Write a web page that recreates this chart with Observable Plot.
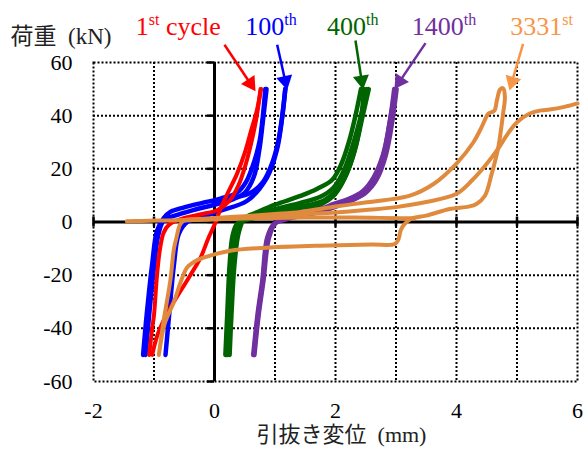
<!DOCTYPE html>
<html><head><meta charset="utf-8">
<script src="https://cdn.jsdelivr.net/npm/d3@7"></script>
<script src="https://cdn.jsdelivr.net/npm/@observablehq/plot@0.6"></script>
<style>body{margin:0;background:#fff} svg text{font-family:"Liberation Serif","Noto Sans CJK JP",serif !important;}</style>
</head><body><div id="chart"></div>
<script>
// ---------- data ----------
const xTicks = [-2, 0, 2, 4, 6];
const xGrid = [-1, 1, 2, 3, 4, 5];
const xMinorTicks = [-2, -1, 0, 1, 2, 3, 4, 5, 6];
const yTicks = [-60, -40, -20, 0, 20, 40, 60];
const yGrid = [-40, -20, 20, 40];

const seriesNames = ["1st cycle", "100th", "400th", "1400th", "3331st"];
const labelBase = ["1", "100", "400", "1400", "3331"];
const labelSup = ["st", "th", "th", "th", "st"];
const labelRest = ["\u00a0cycle", "", "", "", ""];

// each series: list of paths, each path list of [displacement mm, load kN]
const cycle1Paths = [
  [[-1.03,-50],[-0.95,-43],[-0.84,-37],[-0.7,-31],[-0.59,-27],[-0.4,-20],[-0.23,-13.4],[-0.1,-6],[0.02,0],[0.1,5],[0.2,10],[0.37,18],[0.5,26],[0.6,34],[0.7,42],[0.77,50]],
  [[-1.08,-50],[-1.03,-40],[-1.0,-35],[-0.95,-20],[-0.9,-10],[-0.84,-4],[-0.75,-1],[-0.5,1.5],[-0.2,3],[0.05,4.5],[0.25,8],[0.4,14],[0.52,22],[0.62,31],[0.7,40],[0.76,50]]
];
const cycle100Paths = [
  [[0.84,50],[0.8,40],[0.75,31],[0.66,23],[0.52,15],[0.37,11],[0.1,8.8],[-0.2,7.2],[-0.5,5.5],[-0.73,3.8],[-0.84,1.5],[-0.95,-3.3],[-1.03,-15.8],[-1.12,-34.7],[-1.18,-50]],
  [[-1.14,-50],[-1.08,-35],[-1.0,-17],[-0.93,-5],[-0.84,0.5],[-0.6,2.8],[-0.3,4.8],[0,6.5],[0.3,8.5],[0.5,11],[0.65,17],[0.74,27],[0.8,38],[0.86,50]],
  [[-0.81,-50],[-0.75,-35],[-0.67,-16],[-0.59,-4.5],[-0.45,0],[-0.23,1.7],[0.1,4.3],[0.54,8],[0.87,16.8],[1.03,27],[1.12,39.5],[1.17,50]],
  [[1.17,50],[1.12,40],[1.05,30],[0.95,22],[0.8,15],[0.6,11],[0.3,9],[0,7.5]]
];
const cycle400Paths = [
  [[0.18,-50],[0.21,-35],[0.25,-16],[0.3,-5],[0.38,-0.5],[0.6,1.2],[1.0,3],[1.42,4.5],[1.75,6.5],[1.97,9.9],[2.12,15],[2.25,22],[2.35,30],[2.43,40],[2.47,50]],
  [[0.25,-50],[0.28,-35],[0.33,-16],[0.4,-4],[0.5,1.5],[0.7,3.6],[1.0,6.5],[1.42,9.8],[1.7,12.5],[1.95,16],[2.1,22],[2.22,30],[2.33,40],[2.42,50]],
  [[0.22,-50],[0.25,-35],[0.29,-16],[0.35,-4],[0.45,0.8],[0.65,2.5],[1.0,4.8],[1.42,7.2],[1.75,9.5],[1.97,13],[2.15,20],[2.3,30],[2.42,40],[2.52,50]],
  [[0.2,-50],[0.23,-35],[0.27,-16],[0.32,-4.5],[0.42,0],[0.62,1.8],[1.0,3.8],[1.42,5.8],[1.8,8],[2.02,12],[2.18,18],[2.32,27],[2.45,40],[2.55,50]]
];
const cycle1400Paths = [
  [[0.64,-50],[0.71,-35],[0.79,-22],[0.87,-6],[0.98,-0.8],[1.2,1.1],[1.42,2.2],[1.75,3.8],[1.97,5.5],[2.2,7.5],[2.46,10.5],[2.63,15.5],[2.79,25],[2.9,38],[2.99,50]],
  [[0.66,-50],[0.73,-35],[0.81,-22],[0.9,-6],[1.02,0],[1.2,2],[1.42,3.6],[1.75,4.9],[1.97,6.8],[2.2,8.5],[2.46,11.8],[2.63,16.8],[2.79,25.7],[2.9,38.2],[2.97,50]],
  [[0.65,-50],[0.72,-35],[0.8,-22],[0.88,-6],[1.0,-0.5],[1.2,1.5],[1.42,2.8],[1.75,4.3],[2.0,6],[2.3,8.5],[2.5,11],[2.68,16],[2.83,25],[2.94,38],[3.01,50]]
];
const cycle3331Paths = [
  [[-1.45,0.3],[-1.2,0.4],[-0.8,0.6],[-0.4,0.8],[0,1.0],[0.5,1.3],[1.0,1.5],[1.5,1.7],[2.0,1.7],[2.6,1.6],[3.1,1.4],[3.3,1.4]],
  [[-0.92,-50],[-0.82,-38],[-0.67,-30],[-0.55,-22],[-0.45,-17],[-0.3,-14.5],[-0.18,-13.4],[0.26,-10.8],[0.92,-9.6],[1.75,-8.9],[2.6,-8.5],[2.98,-8.3],[3.04,-6.5],[3.08,-3],[3.14,-0.8],[3.25,1.2],[3.5,2.4],[3.89,4.9],[4.2,5.8],[4.33,6.8],[4.47,9.9],[4.58,18],[4.69,28],[4.77,40.8],[4.8,47],[4.77,50.3],[4.72,49.8],[4.67,46],[4.63,42],[4.59,41.4],[4.53,40.8],[4.4,35],[4.28,30],[4.0,22],[3.62,14.3],[3.23,9.9],[2.8,8.2],[2.52,7.4],[2.0,5.8],[1.42,3.8],[1.0,3.0],[0.5,2.2],[0,1.5],[-0.3,1.1],[-0.5,0.6],[-0.57,-1],[-0.63,-6],[-0.67,-10],[-0.73,-22],[-0.84,-37],[-0.92,-50]],
  [[-0.5,0.6],[0,1.0],[0.5,1.7],[1.0,2.3],[1.42,2.9],[2.0,3.6],[2.5,4.5],[3.0,5.6],[3.5,7.5],[4.0,10.6],[4.25,15.5],[4.5,21.9],[4.7,28],[4.83,32.6],[5.0,37.5],[5.21,40.8],[5.4,42],[5.54,42.3],[5.8,43.4],[6.0,44.6]]
];

// callout label anchors and arrows (data units)
const labelX = [-1.3, 0.51, 1.86, 3.26, 4.89];
const labelY = [73.5, 73.5, 73.5, 73.5, 73.5];
const arrowFrom = [[0.165,66.7],[1.036,66.7],[2.33,68.3],[3.488,67.3],[5.10,67.0]];
const arrowTo = [[0.678,49.2],[1.202,49.7],[2.455,49.8],[2.975,50.0],[4.876,49.5]];

// ---------- styles ----------
const lineColors = ["#ff0000", "#0000ff", "#006400", "#7030a0", "#e08a3e"];
const labelColors = ["#ff0000", "#0000ff", "#006400", "#7030a0", "#f79646"];
const lineWidths = [4, 4.5, 4.5, 4.5, 4];
const FONT = "Liberation Serif, Noto Sans CJK JP, serif";
const W = 583, H = 455, mL = 93, mR = 6, mT = 62, mB = 74;
const xDomain = [-2, 6], yDomain = [-60, 60];
const kx = (W - mL - mR) / (xDomain[1] - xDomain[0]);
const ky = (H - mT - mB) / (yDomain[1] - yDomain[0]);

// ---------- build tables ----------
const allPaths = [cycle1Paths, cycle100Paths, cycle400Paths, cycle1400Paths, cycle3331Paths];
const rowsFor = (s) => allPaths[s].flatMap((p, j) => p.map(([x, y]) => ({x, y, path: j})));

const headR = 6;
const headTip = 2 * Math.sqrt((Math.PI * headR * headR) / (3 * Math.sqrt(3)));
const callouts = seriesNames.map((name, i) => {
  const [fx, fy] = arrowFrom[i], [tx, ty] = arrowTo[i];
  const dxp = (tx - fx) * kx, dyp = -(ty - fy) * ky;
  const len = Math.hypot(dxp, dyp), ux = dxp / len, uy = dyp / len;
  return {
    i, name, lx: labelX[i], ly: labelY[i],
    x1: fx, y1: fy,
    cx: tx - headTip * ux / kx, cy: ty + headTip * uy / ky,
    angle: Math.atan2(ux, -uy) * 180 / Math.PI,
    text: labelBase[i] + labelSup[i] + labelRest[i]
  };
});

const dotted = {stroke: "black", strokeWidth: 2, strokeDasharray: "2,2"};
const marks = [
  Plot.ruleX(xGrid, dotted),
  Plot.ruleY(yGrid, dotted),
  Plot.frame(dotted),
  Plot.ruleY([0], {stroke: "black", strokeWidth: 3}),
  Plot.ruleX([0], {stroke: "black", strokeWidth: 3}),
  Plot.ruleX(xMinorTicks, {y1: 0, y2: 0, insetTop: -5, insetBottom: -5, stroke: "black", strokeWidth: 2.5}),
  Plot.ruleY(yTicks, {x1: 0, x2: 0, insetLeft: -7, stroke: "black", strokeWidth: 2.5}),
];
[1, 0, 2, 3, 4].forEach((s) => {
  marks.push(Plot.line(rowsFor(s), {x: "x", y: "y", z: "path", stroke: lineColors[s], strokeWidth: lineWidths[s], curve: "catmull-rom", strokeLinecap: "round", strokeLinejoin: "round"}));
});
marks.push(
  Plot.link(callouts, {x1: "x1", y1: "y1", x2: "cx", y2: "cy", stroke: (d) => labelColors[d.i], strokeWidth: 2.5}),
  Plot.dot(callouts, {x: "cx", y: "cy", symbol: "triangle", r: headR, rotate: "angle", fill: (d) => labelColors[d.i], stroke: "none"}),
  Plot.text(callouts, {x: "lx", y: "ly", text: "text", fill: (d) => labelColors[d.i], textAnchor: "start", fontSize: 26, fontFamily: FONT}),
  Plot.axisX(xTicks, {tickSize: 0, tickPadding: 21, fontSize: 22, fontFamily: FONT, label: null, tickFormat: (d) => String(d), fill: "black"}),
  Plot.axisY(yTicks, {tickSize: 0, tickPadding: 21, fontSize: 22, fontFamily: FONT, label: null, tickFormat: (d) => String(d), fill: "black"}),
  Plot.text(["荷重\u00a0 (kN)"], {frameAnchor: "top-left", dx: -83, dy: -35, textAnchor: "start", fontSize: 23, fontFamily: FONT, fill: "#222"}),
  Plot.text(["引抜き変位\u00a0 (mm)"], {frameAnchor: "bottom", dx: 6, dy: 60, fontSize: 22, fontFamily: FONT, fill: "#222"})
);

const plot = Plot.plot({
  width: W, height: H,
  marginLeft: mL, marginRight: mR, marginTop: mT, marginBottom: mB,
  x: {domain: xDomain},
  y: {domain: yDomain},
  style: {fontFamily: FONT, background: "white", color: "black", overflow: "visible"},
  marks
});

// superscripts
const NS = "http://www.w3.org/2000/svg";
plot.querySelectorAll("text").forEach((t) => {
  const k = callouts.findIndex((c) => c.text === t.textContent);
  if (k < 0) return;
  t.textContent = "";
  const a = document.createElementNS(NS, "tspan"); a.textContent = labelBase[k]; t.appendChild(a);
  const b = document.createElementNS(NS, "tspan"); b.textContent = labelSup[k];
  b.setAttribute("font-size", "16"); b.setAttribute("dy", "-10"); t.appendChild(b);
  if (labelRest[k]) {
    const r = document.createElementNS(NS, "tspan"); r.textContent = labelRest[k];
    r.setAttribute("dy", "10"); t.appendChild(r);
  }
});
document.getElementById("chart").appendChild(plot);
</script></body></html>
